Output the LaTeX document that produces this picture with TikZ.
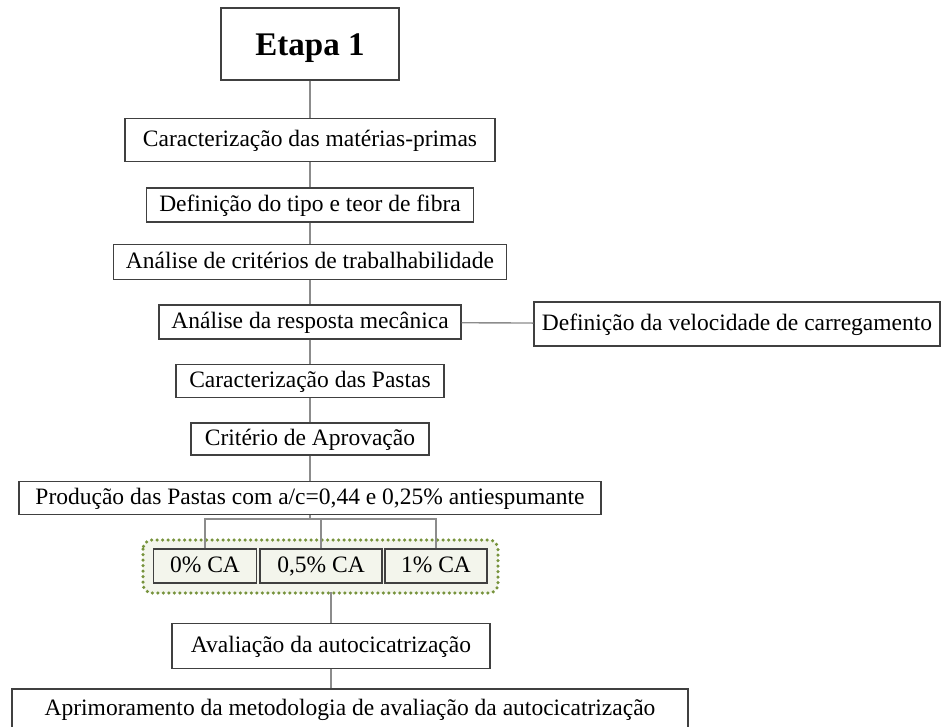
\documentclass[tikz,border=0pt]{standalone}
\usepackage{fontspec}
\setmainfont{Liberation Serif}
\usetikzlibrary{positioning}

\definecolor{borda}{HTML}{404040}
\definecolor{linha}{HTML}{8C8C8C}
\definecolor{verde}{HTML}{77933C}
\definecolor{fundo}{HTML}{F3F5EC}

\tikzset{
  caixa/.style={draw=borda,line width=1.1pt,fill=white,inner sep=0pt,
    font=\fontsize{23.5}{28}\selectfont,text height=17pt,text depth=4pt},
  caixaCA/.style={caixa,fill=fundo},
  liga/.style={draw=linha,line width=1.4pt}
}

\begin{document}
\begin{tikzpicture}[x=1pt,y=-1pt]
  \useasboundingbox (0,0) rectangle (941,726);

  % ================= grupo de teores de CA =================
  \draw[verde,fill=fundo,line width=3.5pt,dash pattern=on 0pt off 5.5pt,
    line cap=round,rounded corners=9pt] (143,540) rectangle (498,593);

  % ================= caixas da etapa =================
  \node[caixa,minimum width=178,minimum height=72,text height=23pt,text depth=1pt,
    font=\fontsize{33}{38}\selectfont\bfseries] (etapa) at (310,44) {Etapa 1};
  \node[caixa,minimum width=370,minimum height=43] (carac) at (310,140)
    {Caracterização das matérias-primas};
  \node[caixa,minimum width=327,minimum height=34] (fibra) at (310,205)
    {Definição do tipo e teor de fibra};
  \node[caixa,minimum width=393,minimum height=35] (trab) at (310,262)
    {Análise de critérios de trabalhabilidade};
  \node[caixa,minimum width=302,minimum height=34] (resp) at (310,322)
    {Análise da resposta mecânica};
  \node[caixa,minimum width=406,minimum height=44] (veloc) at (737,324)
    {Definição da velocidade de carregamento};
  \node[caixa,minimum width=268,minimum height=33] (pastas) at (310,381)
    {Caracterização das Pastas};
  \node[caixa,minimum width=238,minimum height=32] (aprov) at (310,439)
    {Critério de Aprovação};
  \node[caixa,minimum width=582,minimum height=33] (prod) at (310,498)
    {Produção das Pastas com a/c=0,44 e 0,25\% antiespumante};

  % ================= teores de CA =================
  \node[caixaCA,minimum width=103,minimum height=34] (ca0) at (205,566) {0\% CA};
  \node[caixaCA,minimum width=122,minimum height=34] (ca05) at (321,566) {0,5\% CA};
  \node[caixaCA,minimum width=102,minimum height=34] (ca1) at (436,566) {1\% CA};

  % ================= avaliação =================
  \node[caixa,minimum width=318,minimum height=45] (aval) at (331,646)
    {Avaliação da autocicatrização};
  \node[caixa,minimum width=676,minimum height=40] (aprim) at (350,709)
    {Aprimoramento da metodologia de avaliação da autocicatrização};

  % ================= ligações =================
  \coordinate (ramo) at (310,519);
  \draw[liga] (etapa) -- (carac);
  \draw[liga] (carac) -- (fibra);
  \draw[liga] (fibra) -- (trab);
  \draw[liga] (trab) -- (resp);
  \draw[liga] (resp) -- (pastas);
  \draw[liga] (resp) -- (veloc);
  \draw[liga] (pastas) -- (aprov);
  \draw[liga] (aprov) -- (prod);
  \draw[liga] (prod) -- (ramo);
  \draw[liga] (ca0.north) |- (ramo) -| (ca1.north);
  \draw[liga] (ca05.north) -- (ca05.north |- ramo);
  \draw[liga] (aval.north) -- ++(0,-31);
  \draw[liga] (aval.south) -- (aval.south |- aprim.north);
\end{tikzpicture}
\end{document}
